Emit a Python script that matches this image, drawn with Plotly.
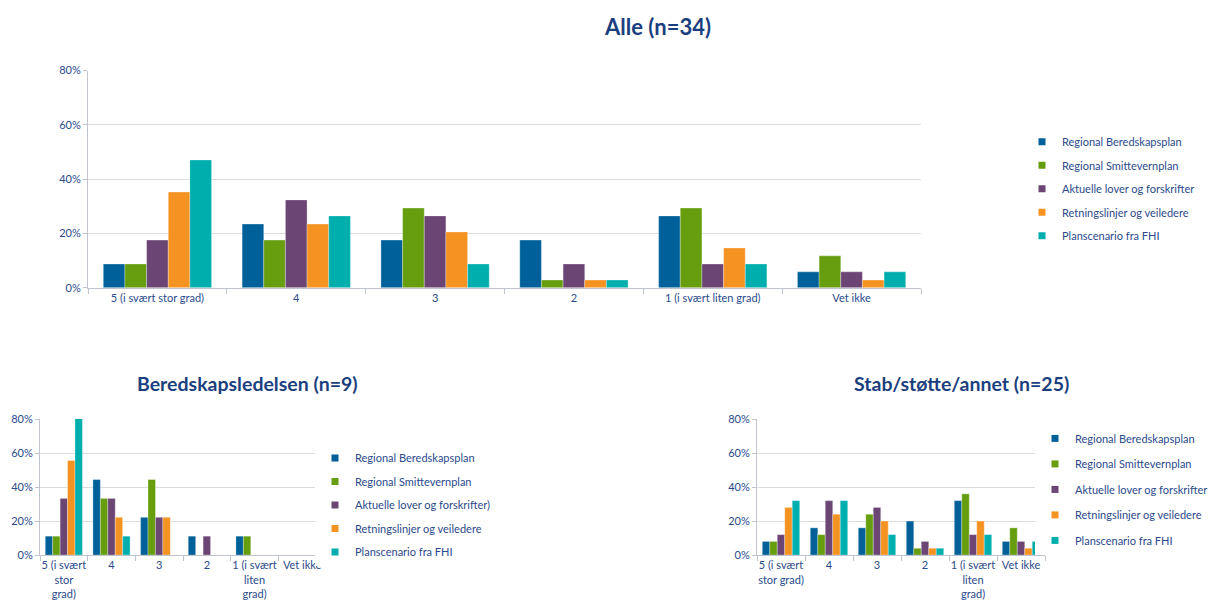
import plotly.graph_objects as go

categories_top = ["5 (i svært stor grad)", "4", "3", "2", "1 (i svært liten grad)", "Vet ikke"]
categories_left = ["5 (i svært<br>stor<br>grad)", "4", "3", "2", "1 (i svært<br>liten<br>grad)", "Vet ikke"]
categories_right = ["5 (i svært<br>stor grad)", "4", "3", "2", "1 (i svært<br>liten<br>grad)", "Vet ikke"]

series_names = ["Regional Beredskapsplan", "Regional Smittevernplan", "Aktuelle lover og forskrifter",
                "Retningslinjer og veiledere", "Planscenario fra FHI"]
series_names_left = ["Regional Beredskapsplan", "Regional Smittevernplan", "Aktuelle lover og forskrifter)",
                     "Retningslinjer og veiledere", "Planscenario fra FHI"]
colors = ["#00619A", "#669E0F", "#6B4674", "#F59322", "#00AEAE"]

# Alle (n=34), percent
alle = [
    [8.8, 23.5, 17.6, 17.6, 26.5, 5.9],
    [8.8, 17.6, 29.4, 2.9, 29.4, 11.8],
    [17.6, 32.4, 26.5, 8.8, 8.8, 5.9],
    [35.3, 23.5, 20.6, 2.9, 14.7, 2.9],
    [47.1, 26.5, 8.8, 2.9, 8.8, 5.9],
]
# Beredskapsledelsen (n=9)
bered = [
    [11.1, 44.4, 22.2, 11.1, 11.1, 0],
    [11.1, 33.3, 44.4, 0, 11.1, 0],
    [33.3, 33.3, 22.2, 11.1, 0, 0],
    [55.6, 22.2, 22.2, 0, 0, 0],
    [88.9, 11.1, 0, 0, 0, 0],
]
# Stab/støtte/annet (n=25)
stab = [
    [8, 16, 16, 20, 32, 8],
    [8, 12, 24, 4, 36, 16],
    [12, 32, 28, 8, 12, 8],
    [28, 24, 20, 4, 20, 4],
    [32, 32, 12, 4, 12, 8],
]
y_ticks = [0, 20, 40, 60, 80]
y_ticklabels = ["0%", "20%", "40%", "60%", "80%"]

TXT = "#2B4A8C"
TITLE = "#1B3F7E"
FONT = "Lato"
W, H = 1217, 609

fig = go.Figure()

panels = [
    (alle, categories_top, series_names, "x", "y", "legend"),
    (bered, categories_left, series_names_left, "x2", "y2", "legend2"),
    (stab, categories_right, series_names, "x3", "y3", "legend3"),
]
for data, cats, names, xa, ya, lg in panels:
    for i, vals in enumerate(data):
        fig.add_trace(go.Bar(
            x=cats, y=vals, name=names[i], xaxis=xa, yaxis=ya, showlegend=False,
            marker=dict(color=colors[i], line=dict(color="rgba(255,255,255,0.6)", width=0.5)),
        ))
    # legend entries (small square swatches)
    for i in range(len(data)):
        fig.add_trace(go.Scatter(
            x=[None], y=[None], mode="markers", name=names[i], xaxis=xa, yaxis=ya,
            legend=lg, legendgroup=lg + str(i),
            marker=dict(symbol="square", size=7, color=colors[i]),
        ))

def px_x(a, b):
    return [a / W, b / W]

def px_y(top, bottom):
    return [1 - bottom / H, 1 - top / H]

axis_common_x = dict(showgrid=False, showline=True, linecolor="#BFC4CF", linewidth=1,
                     ticks="outside", tickson="boundaries", ticklen=5, tickcolor="#BFC4CF",
                     tickangle=0, tickfont=dict(family=FONT, size=11, color=TXT), fixedrange=True)
axis_common_y = dict(range=[0, 80], tickmode="array", tickvals=y_ticks, ticktext=y_ticklabels,
                     showgrid=True, gridcolor="#DCDCDC", gridwidth=1, showline=True, linecolor="#BFC4CF",
                     ticks="outside", ticklen=4, tickcolor="#BFC4CF",
                     tickfont=dict(family=FONT, size=11, color=TXT), zeroline=False, fixedrange=True)

legend_font = dict(family=FONT, size=11, color=TXT)

fig.update_layout(
    width=W, height=H, margin=dict(l=0, r=0, t=0, b=0),
    paper_bgcolor="white", plot_bgcolor="white",
    barmode="group", bargap=0.22, bargroupgap=0,
    font=dict(family=FONT, color=TXT),
    xaxis=dict(domain=px_x(88, 921), anchor="y", **axis_common_x),
    yaxis=dict(domain=px_y(65, 287), anchor="x", **axis_common_y),
    xaxis2=dict(domain=px_x(40, 326), anchor="y2", **axis_common_x),
    yaxis2=dict(domain=px_y(421, 560), anchor="x2", **axis_common_y),
    xaxis3=dict(domain=px_x(757, 1045), anchor="y3", **axis_common_x),
    yaxis3=dict(domain=px_y(421, 560), anchor="x3", **axis_common_y),
    legend=dict(x=1022 / W, y=1 - 123 / H, xanchor="left", yanchor="top",
                font=legend_font, tracegroupgap=4.5, itemwidth=30),
    legend2=dict(x=315 / W, y=1 - 446 / H, xanchor="left", yanchor="top",
                 font=legend_font, tracegroupgap=4.5, itemwidth=30),
    legend3=dict(x=1035 / W, y=1 - 426 / H, xanchor="left", yanchor="top",
                 font=legend_font, tracegroupgap=6.5, itemwidth=30),
    annotations=[
        dict(text="<b>Alle (n=34)</b>", x=657 / W, y=1 - 20 / H, xref="paper", yref="paper",
             xanchor="center", yanchor="middle",
             showarrow=False, font=dict(family=FONT, size=22, color=TITLE)),
        dict(text="<b>Beredskapsledelsen (n=9)</b>", x=247 / W, y=1 - 385 / H, xref="paper", yref="paper",
             xanchor="center", yanchor="middle",
             showarrow=False, font=dict(family=FONT, size=19.5, color=TITLE)),
        dict(text="<b>Stab/støtte/annet (n=25)</b>", x=961 / W, y=1 - 385 / H, xref="paper", yref="paper",
             xanchor="center", yanchor="middle",
             showarrow=False, font=dict(family=FONT, size=19.5, color=TITLE)),
    ],
)

fig.write_html("out.html")
